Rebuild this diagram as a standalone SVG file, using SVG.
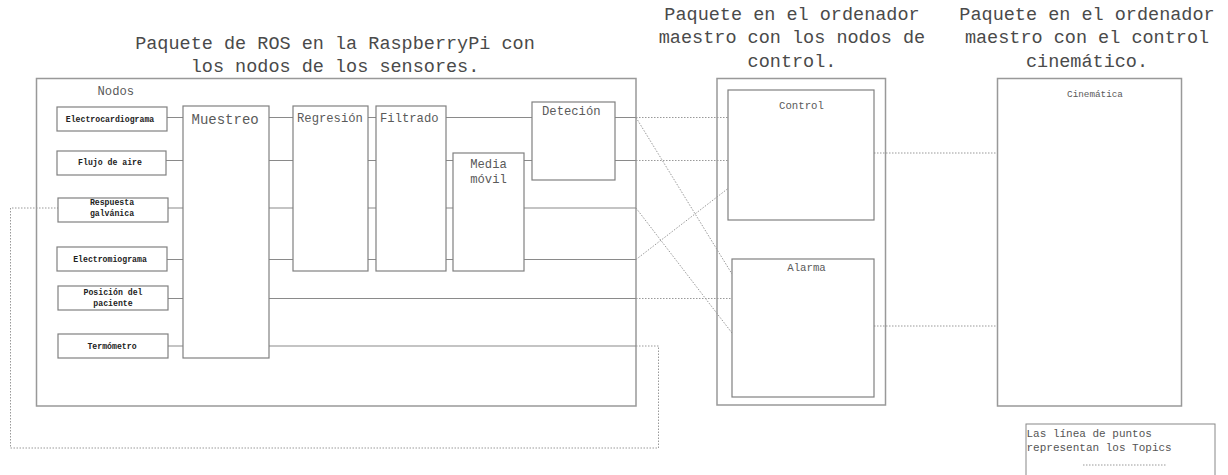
<svg xmlns="http://www.w3.org/2000/svg" width="1228" height="475" viewBox="0 0 1228 475">
<style>
text{font-family:"Liberation Mono","Courier New",monospace;fill:#444}
.title{font-size:18.5px;text-anchor:middle;fill:#4a4a4a}
.pkg{fill:#fff;stroke:#999;stroke-width:1.5}
.box{fill:#fff;stroke:#808080;stroke-width:1.2}
.sens{font-size:8.2px;font-weight:bold;text-anchor:middle;fill:#222}
.lbl{font-size:12.2px;fill:#5a5a5a}
.sm{font-size:10.7px;text-anchor:middle;fill:#5a5a5a}
.wire{stroke:#8a8a8a;stroke-width:1.1;fill:none}
.dot{stroke:#999;stroke-width:1;stroke-dasharray:1.5,1.5;fill:none}
</style>
<rect width="1228" height="475" fill="#fff"/>
<g id="titles">
<text class="title" x="335" y="48.5">Paquete de ROS en la RaspberryPi con</text>
<text class="title" x="335" y="71.5">los nodos de los sensores.</text>
<text class="title" x="792" y="19.5">Paquete en el ordenador</text>
<text class="title" x="792" y="43">maestro con los nodos de</text>
<text class="title" x="792" y="66.5">control.</text>
<text class="title" x="1087" y="19.5">Paquete en el ordenador</text>
<text class="title" x="1087" y="43">maestro con el control</text>
<text class="title" x="1087" y="66.5">cinemático.</text>
</g>
<g id="pkg-ros">
<rect class="pkg" x="36.5" y="78.5" width="599.5" height="327.5"/>
<text class="lbl" x="97.5" y="95">Nodos</text>
</g>
<g id="pkg-control"><rect class="pkg" x="717" y="78.5" width="168.5" height="326.5"/></g>
<g id="pkg-cinematica">
<rect class="pkg" x="997.5" y="78.5" width="184" height="327.5"/>
<text x="1095" y="96.5" style="font-size:9.3px;text-anchor:middle;fill:#5a5a5a">Cinemática</text>
</g>
<g id="connectors">
<path class="wire" d="M167 117.5H183M166 160.5H183M168 208H183M167 259.5H183M168 298.5H183M168 346H183"/>
<path class="wire" d="M269 117.5H293M269 160.5H293M269 208H293M269 259.5H293M269 298.5H636M269 346H636"/>
<path class="wire" d="M368 117.5H376M368 160.5H376M368 208H376M368 259.5H376"/>
<path class="wire" d="M446 117.5H532M446 160.5H453M446 208H453M446 259.5H453"/>
<path class="wire" d="M524 160.5H532M524 208H636M524 259.5H636M615 117.5H636M615 160.5H636"/>
<path class="dot" d="M636 117.5H728M636 160.5H728M636 117.5L732 274M636 208L732 333M636 259.5L728 188.5M636 298.5H732"/>
<path class="dot" d="M874 153H998M874 326H998"/>
<path class="dot" d="M636 346H658.5V448H10.5V208H58"/>
</g>
<g id="n-ecg"><rect class="box" x="57" y="107" width="110" height="24"/><text class="sens" x="110" y="121.5">Electrocardiograma</text></g>
<g id="n-flujo"><rect class="box" x="57" y="151" width="109" height="24"/><text class="sens" x="110" y="165">Flujo de aire</text></g>
<g id="n-resp"><rect class="box" x="58" y="198" width="110" height="24"/><text class="sens" x="112" y="205">Respuesta</text><text class="sens" x="112" y="216">galvánica</text></g>
<g id="n-emg"><rect class="box" x="57" y="247" width="110" height="24"/><text class="sens" x="110" y="261.5">Electromiograma</text></g>
<g id="n-pos"><rect class="box" x="58" y="286" width="110" height="24"/><text class="sens" x="113" y="295">Posición del</text><text class="sens" x="113" y="306">paciente</text></g>
<g id="n-term"><rect class="box" x="58" y="334" width="110" height="24"/><text class="sens" x="112" y="349">Termómetro</text></g>
<g id="n-muestreo"><rect class="box" x="183" y="106" width="86" height="252"/><text x="191.5" y="124" style="font-size:14px;fill:#5a5a5a">Muestreo</text></g>
<g id="n-regresion"><rect class="box" x="293" y="106" width="75" height="165"/><text class="lbl" x="297" y="121.5">Regresión</text></g>
<g id="n-filtrado"><rect class="box" x="376" y="106" width="70" height="165"/><text class="lbl" x="380" y="121.5">Filtrado</text></g>
<g id="n-media"><rect class="box" x="453" y="153" width="71" height="118"/><text class="lbl" x="488.5" y="168" text-anchor="middle">Media</text><text class="lbl" x="488.5" y="183" text-anchor="middle">móvil</text></g>
<g id="n-detecion"><rect class="box" x="532" y="102" width="83" height="78"/><text class="lbl" x="542" y="115">Deteción</text></g>
<g id="n-control"><rect class="box" x="728" y="90" width="146" height="130"/><text class="sm" x="801.5" y="109">Control</text></g>
<g id="n-alarma"><rect class="box" x="732" y="259" width="142" height="138"/><text class="sm" x="806.5" y="270.5">Alarma</text></g>
<g id="legend">
<rect x="1026" y="424" width="189" height="60" fill="#fff" stroke="#888" stroke-width="1"/>
<text x="1026.5" y="436.5" style="font-size:11px;fill:#555">Las línea de puntos</text>
<text x="1026.5" y="450.5" style="font-size:11px;fill:#555">representan los Topics</text>
<path class="dot" d="M1083 465H1167"/>
</g>
</svg>
